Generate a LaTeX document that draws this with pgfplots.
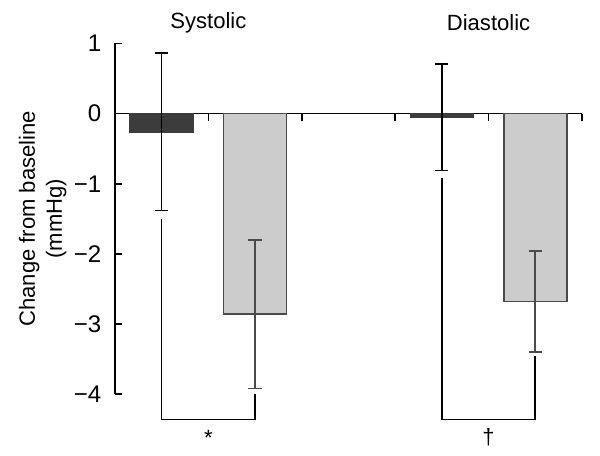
\documentclass[border=0pt]{standalone}
\usepackage{pgfplots}
\pgfplotsset{compat=1.18}
\usepackage{fontspec}
\setmainfont{Liberation Sans}
\definecolor{barDark}{HTML}{3C3C3C}
\definecolor{barLight}{HTML}{CCCCCC}
\definecolor{edgeGray}{HTML}{4A4A4A}

\begin{document}
\fontsize{11}{13.5}\selectfont
\begin{tikzpicture}
\begin{axis}[
  scale only axis, width=233pt, height=175pt,
  xmin=0, xmax=5, ymin=-4, ymax=1,
  enlargelimits=false, clip=false,
  axis x line*=middle, axis y line*=left,
  xtick={0,...,5}, xticklabel=\empty,
  ytick={-4,...,1}, yticklabels={−4,−3,−2,−1,0,1},
  xtick align=outside, ytick align=inside,
  major tick length=3.5pt,
  axis line style={line width=0.8pt, black},
  every tick/.style={black, line width=0.8pt},
  yticklabel style={xshift=-3pt, font=\fontsize{12}{14}\selectfont},
  ylabel={Change from baseline\\(mmHg)},
  ylabel style={align=center, at={(axis description cs:-0.155,0.5)}, anchor=center},
]
% dark bars (first treatment)
\addplot[ybar, bar width=0.675, bar shift=0pt, fill=barDark, draw=barDark, line width=0.8pt,
  error bars/.cd, y dir=both, y explicit,
  error bar style={black, line width=0.8pt},
  error mark options={black, line width=0.8pt, mark size=3.3pt, rotate=90}]
  coordinates {(0.5,-0.26) +- (0,1.12) (3.5,-0.05) +- (0,0.76)};
% light bars (second treatment)
\addplot[ybar, bar width=0.675, bar shift=0pt, fill=barLight, draw=edgeGray, line width=0.8pt,
  error bars/.cd, y dir=both, y explicit,
  error bar style={edgeGray, line width=0.8pt},
  error mark options={edgeGray, line width=0.8pt, mark size=3.3pt, rotate=90}]
  coordinates {(1.5,-2.86) +- (0,1.06) (4.5,-2.68) +- (0,0.72)};
% significance brackets
\addplot[black, line width=0.8pt, mark=none] coordinates {(0.5,-1.50) (0.5,-4.36) (1.5,-4.36) (1.5,-4.0)};
\addplot[black, line width=0.8pt, mark=none] coordinates {(3.5,-0.92) (3.5,-4.36) (4.5,-4.36) (4.5,-3.45)};
\node at (axis cs:1,1.3) {Systolic};
\node at (axis cs:4,1.3) {Diastolic};
\node at (axis cs:1,-4.62) {*};
\node at (axis cs:4,-4.61) {†};
\coordinate (bl) at (axis cs:-1.231,-4.867);
\coordinate (tr) at (axis cs:5.193,1.619);
\end{axis}
\pgfresetboundingbox
\path (bl) rectangle (tr);
\end{tikzpicture}
\end{document}
